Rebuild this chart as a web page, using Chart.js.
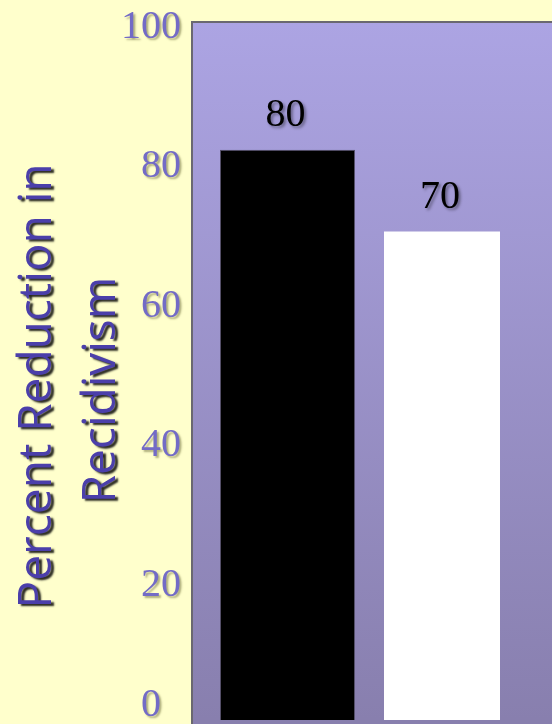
<!DOCTYPE html>
<html>
<head>
<meta charset="utf-8">
<script src="https://cdn.jsdelivr.net/npm/chart.js@4"></script>
<style>
  html, body { margin: 0; padding: 0; background: #FFFFCC; overflow: hidden; }
  #wrap { width: 552px; height: 724px; }
</style>
</head>
<body>
<div id="wrap"><canvas id="chart" width="552" height="724"></canvas></div>
<script>
// ----------------------------------------------------------
// DATA
// ----------------------------------------------------------
const categories = [""];
const seriesNames = ["Series 1", "Series 2"];
const blackValues = [81.7];
const whiteValues = [70];
const valueLabels = ["80", "70"];
const yTicks = [0, 20, 40, 60, 80, 100];
const yTitle = ["Percent Reduction in", "Recidivism"];

// ----------------------------------------------------------
// BACKGROUND + FRAME
// ----------------------------------------------------------
const plotBackground = {
    id: "plotBackground",
    beforeDatasetsDraw(chart) {
        const ctx = chart.ctx;
        const a = chart.chartArea;
        const g = ctx.createLinearGradient(0, a.top, 0, a.bottom);
        g.addColorStop(0, "#ACA4E3");
        g.addColorStop(1, "#887FAE");
        ctx.save();
        ctx.fillStyle = g;
        ctx.fillRect(a.left, a.top, chart.width - a.left, chart.height - a.top);
        ctx.strokeStyle = "#6A6870";
        ctx.lineWidth = 2;
        ctx.beginPath();
        ctx.moveTo(a.left, chart.height);
        ctx.lineTo(a.left, a.top);
        ctx.lineTo(chart.width, a.top);
        ctx.stroke();
        ctx.restore();
    }
};

// ----------------------------------------------------------
// TEXT: TICKS, TITLE, VALUE LABELS
// ----------------------------------------------------------
const textLayer = {
    id: "textLayer",
    afterDatasetsDraw(chart) {
        const ctx = chart.ctx;
        const y = chart.scales.y;

        // y tick labels (bottom one is pushed up and in, as in the slide)
        ctx.save();
        ctx.font = "40px 'Liberation Serif'";
        ctx.fillStyle = "#736BC6";
        ctx.textAlign = "right";
        ctx.textBaseline = "middle";
        ctx.shadowColor = "rgba(110,110,60,0.55)";
        ctx.shadowOffsetX = 2;
        ctx.shadowOffsetY = 2;
        ctx.shadowBlur = 2;
        yTicks.forEach(v => {
            const raw = y.getPixelForValue(v) + 5;
            const limit = chart.height - 19;
            const px = raw > limit ? 161 : 181;
            ctx.fillText(String(v), px, Math.min(raw, limit));
        });
        ctx.restore();

        // y title (two lines, rotated)
        ctx.save();
        ctx.font = "46px 'Open Sans'";
        ctx.fillStyle = "#4B3FAA";
        ctx.textAlign = "center";
        ctx.textBaseline = "alphabetic";
        ctx.shadowColor = "rgba(0,0,0,0.85)";
        ctx.shadowOffsetX = 3;
        ctx.shadowOffsetY = 2;
        ctx.shadowBlur = 2;
        const titlePos = [[51, 386], [115, 390]];
        yTitle.forEach((line, i) => {
            ctx.save();
            ctx.translate(titlePos[i][0], titlePos[i][1]);
            ctx.rotate(-Math.PI / 2);
            ctx.fillText(line, 0, 0);
            ctx.restore();
        });
        ctx.restore();

        // value labels above bars
        ctx.save();
        ctx.font = "40px 'Liberation Serif'";
        ctx.fillStyle = "#000000";
        ctx.textAlign = "center";
        ctx.textBaseline = "middle";
        ctx.shadowColor = "rgba(0,0,0,0.4)";
        ctx.shadowOffsetX = 2;
        ctx.shadowOffsetY = 2;
        ctx.shadowBlur = 3;
        chart.data.datasets.forEach((ds, i) => {
            const bar = chart.getDatasetMeta(i).data[0];
            ctx.fillText(valueLabels[i], bar.x - 2, bar.y - 34);
        });
        ctx.restore();
    }
};

// ----------------------------------------------------------
// CHART
// ----------------------------------------------------------
const ctx = document.getElementById("chart").getContext("2d");
new Chart(ctx, {
    type: "bar",
    data: {
        labels: categories,
        datasets: [{
            label: seriesNames[0],
            data: blackValues,
            backgroundColor: "#000000",
            borderColor: "#55506A",
            borderWidth: 1,
            categoryPercentage: 0.8944,
            barPercentage: 0.8738
        }, {
            label: seriesNames[1],
            data: whiteValues,
            backgroundColor: "#FFFFFF",
            borderWidth: 0,
            categoryPercentage: 0.8944,
            barPercentage: 0.7508
        }]
    },
    options: {
        responsive: false,
        animation: false,
        layout: { padding: { left: 192, top: 22, right: 14.5, bottom: 4 } },
        plugins: {
            legend: { display: false },
            tooltip: { enabled: false }
        },
        scales: {
            x: { display: false },
            y: { display: false, min: 0, max: 100 }
        }
    },
    plugins: [plotBackground, textLayer]
});
</script>
</body>
</html>
